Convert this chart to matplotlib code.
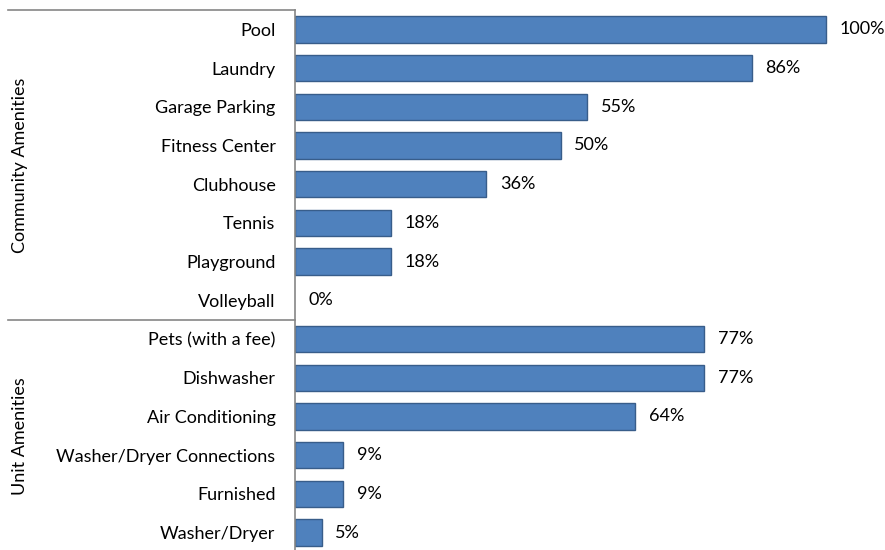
import matplotlib
matplotlib.use("Agg")
import matplotlib.pyplot as plt
from matplotlib.lines import Line2D
from matplotlib.transforms import blended_transform_factory

# Amenity survey results (% of properties offering each amenity)
community = ["Pool", "Laundry", "Garage Parking", "Fitness Center",
             "Clubhouse", "Tennis", "Playground", "Volleyball"]
community_pct = [100, 86, 55, 50, 36, 18, 18, 0]

unit = ["Pets (with a fee)", "Dishwasher", "Air Conditioning",
        "Washer/Dryer Connections", "Furnished", "Washer/Dryer"]
unit_pct = [77, 77, 64, 9, 9, 5]

groups = ["Community Amenities", "Unit Amenities"]

labels = community + unit
values = community_pct + unit_pct
n = len(labels)

plt.rcParams["font.family"] = ["Lato", "DejaVu Sans"]
FS = 13
W, H = 885, 550
fig = plt.figure(figsize=(W / 100, H / 100), dpi=100)

ax_left, ax_right = 295, 885
ax_top, ax_bot = 10, 550
ax = fig.add_axes([ax_left / W, 1 - ax_bot / H,
                   (ax_right - ax_left) / W, (ax_bot - ax_top) / H])

ypos = list(range(n))
bars = ax.barh(ypos, values, height=0.68, color="#4F81BD",
               edgecolor="#385D8A", linewidth=1.0)
for b, v in zip(bars, values):
    if v == 0:
        b.set_linewidth(0)
ax.set_ylim(n - 0.55, -0.5)
ax.set_xlim(0, (ax_right - ax_left) / 5.31)

for y, v in zip(ypos, values):
    ax.annotate(f"{v}%", (v, y), xytext=(10, 0), textcoords="offset points",
                ha="left", va="center", fontsize=FS, color="#000000")

ax.set_yticks(ypos)
ax.set_yticklabels(labels, fontsize=FS)
ax.tick_params(axis="y", length=0, pad=14)
ax.set_xticks([])
for s in ["top", "right", "bottom"]:
    ax.spines[s].set_visible(False)
ax.spines["left"].set_color("#868686")
ax.spines["left"].set_linewidth(1.2)

# Group brackets on the category axis (bottom edge falls below the figure)
tr = blended_transform_factory(fig.transFigure, ax.transData)
x0 = 8 / W
x1 = ax_left / W
bounds = [-0.5, len(community) - 0.5, n - 0.5]
for b in bounds[:-1]:
    fig.add_artist(Line2D([x0, x1], [b, b], transform=tr,
                          color="#868686", linewidth=1.2))
for g, (lo, hi) in zip(groups, zip(bounds[:-1], bounds[1:])):
    fig.text(20 / W, (lo + hi) / 2, g, transform=tr, rotation=90,
             ha="center", va="center", fontsize=FS)

fig.savefig("out.png", dpi=100)
